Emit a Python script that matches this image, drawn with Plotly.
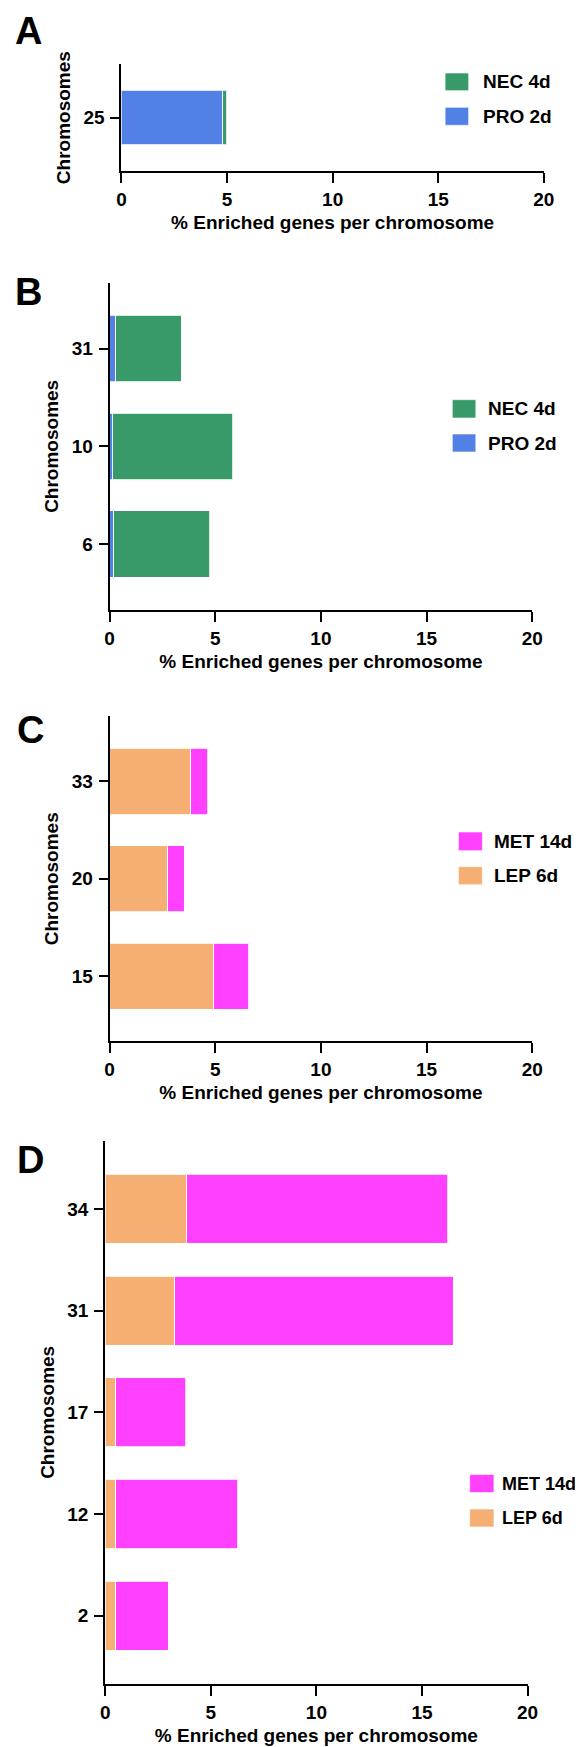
import plotly.graph_objects as go

# ---------------- data ----------------
# Panel A
a_chrom = ["25"]
a_pro2d = [4.79]
a_nec4d = [0.19]
# Panel B
b_chrom = ["6", "10", "31"]
b_pro2d = [0.19, 0.14, 0.29]
b_nec4d = [4.55, 5.69, 3.11]
# Panel C
c_chrom = ["15", "20", "33"]
c_lep6d = [4.94, 2.75, 3.83]
c_met14d = [1.65, 0.79, 0.82]
# Panel D
d_chrom = ["2", "12", "17", "31", "34"]
d_lep6d = [0.51, 0.51, 0.51, 3.29, 3.85]
d_met14d = [2.47, 5.77, 3.31, 13.20, 12.38]

x_ticks = [0, 5, 10, 15, 20]
x_title = "% Enriched genes per chromosome"
y_title = "Chromosomes"

# colours
C_PRO = "#5281E6"
C_NEC = "#389A69"
C_LEP = "#F5AF73"
C_MET = "#FF40FF"

W, H = 583, 1747
FONT = "Liberation Sans"


def fx(px):
    return px / W


def fy(py):
    return 1 - py / H


fig = go.Figure()

panels = [
    dict(n=1, cats=a_chrom,
         series=[("PRO 2d", a_pro2d, C_PRO), ("NEC 4d", a_nec4d, C_NEC)],
         xd=(111.5, 545.8), yd=(56, 163.3), label="A", ly=0, lx=0, lfs=19,
         leg=dict(sx=(444.3, 468.5), tx=481.5,
                  items=[("NEC 4d", C_NEC, (65, 82.7)), ("PRO 2d", C_PRO, (99.3, 117.3))])),
    dict(n=2, cats=b_chrom,
         series=[("PRO 2d", b_pro2d, C_PRO), ("NEC 4d", b_nec4d, C_NEC)],
         xd=(99.3, 533.9), yd=(275, 601.7), label="B", ly=261, lx=0, lfs=19,
         leg=dict(sx=(451.7, 475.9), tx=486,
                  items=[("NEC 4d", C_NEC, (391.7, 410)), ("PRO 2d", C_PRO, (426, 444))])),
    dict(n=3, cats=c_chrom,
         series=[("LEP 6d", c_lep6d, C_LEP), ("MET 14d", c_met14d, C_MET)],
         xd=(99.3, 533.9), yd=(708.3, 1033.3), label="C", ly=699, lx=2, lfs=19,
         leg=dict(sx=(458, 482.6), tx=492.6,
                  items=[("MET 14d", C_MET, (824, 842.7)), ("LEP 6d", C_LEP, (858.7, 876.7))])),
    dict(n=4, cats=d_chrom,
         series=[("LEP 6d", d_lep6d, C_LEP), ("MET 14d", d_met14d, C_MET)],
         xd=(94.8, 529.1), yd=(1132.7, 1676), label="D", ly=1129, lx=2, lfs=18,
         leg=dict(sx=(469.6, 494.5), tx=501,
                  items=[("MET 14d", C_MET, (1466.5, 1484.5)), ("LEP 6d", C_LEP, (1501, 1519))])),
]

axis_font = dict(family=FONT, size=19, color="black", weight="bold")

shapes = []
annotations = []

for p in panels:
    n = p["n"]
    xa = "x" if n == 1 else f"x{n}"
    ya = "y" if n == 1 else f"y{n}"
    for name, vals, col in p["series"]:
        fig.add_trace(go.Bar(
            y=p["cats"], x=vals, name=name, orientation="h",
            marker=dict(color=col, line=dict(color="rgba(255,255,255,0.8)", width=1)),
            xaxis=xa, yaxis=ya, showlegend=False,
        ))
    xkey = "xaxis" if n == 1 else f"xaxis{n}"
    ykey = "yaxis" if n == 1 else f"yaxis{n}"
    ncat = len(p["cats"])
    fig.update_layout(**{
        xkey: dict(
            domain=[fx(p["xd"][0]), fx(p["xd"][1])], anchor=ya,
            range=[0, 20], tickvals=x_ticks, ticktext=[str(t) for t in x_ticks],
            showgrid=False, zeroline=False, showline=True, linecolor="black", linewidth=2,
            ticks="outside", ticklen=10, tickwidth=2, tickcolor="black",
            tickfont=axis_font, ticklabelstandoff=0,
            title=dict(text=x_title, font=axis_font, standoff=7),
            fixedrange=True,
        ),
        ykey: dict(
            domain=[fy(p["yd"][1]), fy(p["yd"][0])], anchor=xa,
            type="category", categoryorder="array", categoryarray=p["cats"],
            range=[-0.67, ncat - 1 + 0.67],
            showgrid=False, zeroline=False, showline=True, linecolor="black", linewidth=2,
            ticks="outside", ticklen=9, tickwidth=2, tickcolor="black",
            tickfont=axis_font, ticklabelstandoff=2,
            title=dict(text=y_title, font=axis_font, standoff=8),
            fixedrange=True,
        ),
    })
    # panel letter
    annotations.append(dict(
        text=p["label"], xref="paper", yref="paper", x=fx(p["lx"]), y=fy(p["ly"]),
        xanchor="left", yanchor="top", showarrow=False,
        font=dict(family=FONT, size=38, color="black", weight="bold"),
    ))
    # legend (swatches + labels)
    lg = p["leg"]
    for text, col, (t, b) in lg["items"]:
        shapes.append(dict(
            type="rect", xref="paper", yref="paper",
            x0=fx(lg["sx"][0]), x1=fx(lg["sx"][1]), y0=fy(b), y1=fy(t),
            fillcolor=col, line=dict(color="rgba(255,255,255,0.6)", width=1),
        ))
        annotations.append(dict(
            text=text, xref="paper", yref="paper", x=fx(lg["tx"]), y=fy((t + b) / 2),
            xanchor="left", yanchor="middle", showarrow=False,
            font=dict(family=FONT, size=p["lfs"], color="black", weight="bold"),
        ))

fig.update_layout(
    width=W, height=H,
    margin=dict(l=0, r=0, t=0, b=0),
    paper_bgcolor="white", plot_bgcolor="white",
    barmode="stack", bargap=0.32,
    showlegend=False,
    shapes=shapes, annotations=annotations,
    font=dict(family=FONT, color="black"),
)

fig.write_html("out.html")
